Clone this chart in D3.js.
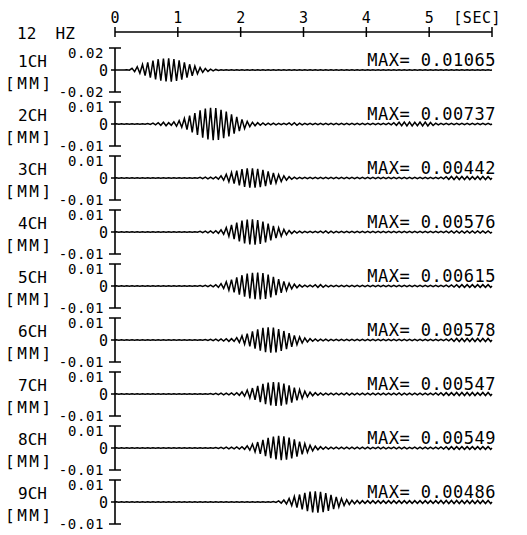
<!DOCTYPE html>
<html>
<head>
<meta charset="utf-8">
<script src="https://cdn.jsdelivr.net/npm/d3@7"></script>
<style>
    html, body { margin: 0; padding: 0; background: #fff; }
    svg text { font-family: "DejaVu Sans Mono", monospace; fill: #000; }
</style>
</head>
<body>
<svg id="chart" width="527" height="535"></svg>
<script>
/* ============================================
   12 HZ - desplazamientos por canal (9 CH)
   ============================================ */

// Eje de tiempo
const timeTicks = [0, 1, 2, 3, 4, 5, 6];
const timeLabels = ['0', '1', '2', '3', '4', '5', '[SEC]'];
const freqLabel = '12  HZ';
const carrierHz = 12;       // picos por segundo (uno por ciclo)

// Canales
const channelNames = ['1CH', '2CH', '3CH', '4CH', '5CH', '6CH', '7CH', '8CH', '9CH'];
const axisLimits = [0.02, 0.01, 0.01, 0.01, 0.01, 0.01, 0.01, 0.01, 0.01];
const axisLabels = [['0.02', '0', '-0.02'], ['0.01', '0', '-0.01'], ['0.01', '0', '-0.01'],
                    ['0.01', '0', '-0.01'], ['0.01', '0', '-0.01'], ['0.01', '0', '-0.01'],
                    ['0.01', '0', '-0.01'], ['0.01', '0', '-0.01'], ['0.01', '0', '-0.01']];
const maxLabels = ['0.01065', '0.00737', '0.00442', '0.00576', '0.00615',
                   '0.00578', '0.00547', '0.00549', '0.00486'];

// Amplitud de pico por ciclo (unidades de 1e-5 mm), 12 valores por segundo
const ch1 = [10, 10, 15, 150, 300, 500, 700, 850, 980, 1040, 1065, 1000,
             880, 700, 520, 350, 220, 130, 80, 50, 30, 25, 20, 20,
             15, 20, 25, 20, 15, 20, 25, 20, 15, 20, 15, 20,
             20, 25, 20, 15, 20, 20, 15, 20, 25, 20, 15, 20,
             20, 15, 20, 25, 20, 15, 20, 20, 25, 20, 15, 20,
             20, 25, 20, 15, 20, 20, 25, 30, 25, 20, 25, 20];
const ch2 = [10, 10, 10, 10, 10, 10, 20, 40, 60, 80, 60, 100,
             150, 250, 380, 500, 620, 700, 737, 720, 650, 560, 440, 320,
             210, 120, 80, 60, 50, 40, 40, 30, 30, 50, 60, 40,
             30, 30, 30, 30, 30, 30, 30, 30, 30, 30, 30, 30,
             30, 30, 30, 30, 40, 60, 80, 90, 90, 80, 90, 90,
             70, 40, 30, 30, 30, 30, 30, 30, 30, 30, 30, 30];
const ch3 = [10, 10, 10, 10, 10, 10, 10, 10, 10, 10, 10, 10,
             10, 10, 10, 10, 30, 40, 40, 50, 100, 170, 250, 330,
             400, 440, 442, 420, 370, 300, 230, 160, 100, 60, 40, 30,
             30, 30, 30, 30, 30, 30, 30, 30, 30, 30, 30, 30,
             30, 30, 30, 30, 30, 30, 30, 30, 30, 30, 30, 30,
             30, 30, 40, 60, 70, 70, 70, 70, 60, 70, 70, 60];
const ch4 = [10, 10, 10, 10, 10, 10, 10, 10, 10, 10, 10, 10,
             10, 10, 10, 10, 30, 40, 50, 60, 100, 200, 320, 430,
             520, 570, 576, 540, 470, 380, 280, 190, 120, 70, 50, 40,
             30, 30, 30, 40, 50, 40, 30, 30, 30, 30, 30, 30,
             30, 30, 30, 30, 30, 30, 30, 30, 30, 30, 30, 30,
             30, 30, 30, 40, 50, 50, 50, 50, 50, 50, 50, 50];
const ch5 = [10, 10, 10, 10, 10, 10, 10, 10, 10, 10, 10, 10,
             10, 10, 10, 10, 20, 30, 40, 60, 110, 190, 290, 390,
             490, 560, 600, 615, 590, 520, 420, 310, 210, 130, 80, 50,
             40, 40, 60, 60, 40, 30, 30, 30, 30, 30, 30, 30,
             30, 30, 30, 30, 30, 30, 30, 30, 30, 30, 30, 30,
             30, 30, 30, 40, 50, 60, 60, 60, 60, 60, 60, 60];
const ch6 = [10, 10, 10, 10, 10, 10, 10, 10, 10, 10, 10, 10,
             10, 10, 10, 10, 10, 20, 30, 40, 50, 60, 60, 110,
             190, 290, 390, 480, 550, 578, 560, 500, 410, 310, 210, 140,
             90, 60, 50, 40, 40, 30, 30, 30, 30, 30, 30, 30,
             30, 30, 30, 30, 30, 30, 30, 30, 30, 30, 30, 30,
             30, 30, 30, 40, 60, 70, 70, 70, 70, 70, 70, 70];
const ch7 = [10, 10, 10, 10, 10, 10, 10, 10, 10, 10, 10, 10,
             10, 10, 10, 10, 10, 10, 20, 30, 40, 40, 50, 60,
             100, 180, 270, 370, 460, 520, 547, 530, 470, 390, 290, 200,
             130, 80, 60, 50, 40, 40, 40, 40, 50, 40, 40, 40,
             40, 40, 40, 40, 40, 40, 50, 40, 40, 40, 40, 40,
             40, 50, 60, 60, 60, 70, 70, 70, 70, 60, 70, 70];
const ch8 = [10, 10, 10, 10, 10, 10, 10, 10, 10, 10, 10, 10,
             10, 10, 10, 10, 10, 10, 10, 20, 30, 40, 40, 50,
             60, 100, 180, 270, 370, 460, 520, 549, 530, 470, 390, 290,
             200, 130, 80, 60, 50, 40, 40, 40, 40, 40, 40, 40,
             40, 30, 40, 40, 30, 40, 40, 40, 30, 40, 40, 40,
             40, 40, 50, 60, 60, 60, 60, 60, 60, 60, 60, 60];
const ch9 = [10, 10, 10, 10, 10, 10, 10, 10, 10, 10, 10, 10,
             10, 10, 10, 10, 10, 10, 10, 10, 10, 10, 10, 10,
             10, 10, 10, 10, 10, 10, 20, 50, 90, 160, 250, 340,
             420, 470, 486, 460, 400, 320, 230, 160, 110, 80, 70, 60,
             60, 60, 60, 60, 60, 60, 60, 60, 60, 60, 60, 60,
             60, 60, 70, 70, 70, 70, 70, 70, 70, 70, 70, 70];
const channelAmps = [ch1, ch2, ch3, ch4, ch5, ch6, ch7, ch8, ch9];
const ampUnit = 1e-5;

// Layout
const svg = d3.select('#chart');
const axisX = 115;
const firstZero = 70;
const rowStep = 54;
const halfH = 22;

const x = d3.scaleLinear().domain([0, 6]).range([axisX, 492]);

// Eje superior de tiempo
const timeAxis = svg.append('g');
timeAxis.append('line')
    .attr('x1', x(0)).attr('x2', x(6))
    .attr('y1', 32).attr('y2', 32)
    .attr('stroke', '#000').attr('stroke-width', 1.5);
timeAxis.selectAll('.tick')
    .data(timeTicks)
    .enter().append('line')
    .attr('x1', d => x(d)).attr('x2', d => x(d))
    .attr('y1', 27).attr('y2', 37)
    .attr('stroke', '#000').attr('stroke-width', 1.5);
timeAxis.selectAll('.tlabel')
    .data(timeTicks)
    .enter().append('text')
    .attr('x', d => d === 6 ? 501 : x(d))
    .attr('y', 23)
    .attr('text-anchor', d => d === 6 ? 'end' : 'middle')
    .attr('font-size', '15px')
    .attr('letter-spacing', d => d === 6 ? '0.5px' : null)
    .text((d, i) => timeLabels[i]);

svg.append('text')
    .attr('x', 17).attr('y', 39)
    .attr('font-size', '16px')
    .style('white-space', 'pre')
    .text(freqLabel);

const line = d3.line().x(d => x(d.t));

channelNames.forEach((name, i) => {
    const y0 = firstZero + i * rowStep;
    const lim = axisLimits[i];
    const y = d3.scaleLinear().domain([-lim, lim]).range([y0 + halfH, y0 - halfH]);
    const g = svg.append('g');

    // Etiquetas del canal
    g.append('text').attr('x', 18).attr('y', y0 - 3).attr('font-size', '16px').text(name);
    g.append('text').attr('x', 5).attr('y', y0 + 19).attr('font-size', '16px')
        .attr('letter-spacing', '2.5px').text('[MM]');

    // Corchete vertical
    g.append('line')
        .attr('x1', axisX).attr('x2', axisX)
        .attr('y1', y(lim)).attr('y2', y(-lim))
        .attr('stroke', '#000').attr('stroke-width', 1.6);
    g.selectAll('.cap')
        .data([lim, -lim])
        .enter().append('line')
        .attr('x1', axisX - 6).attr('x2', axisX + 6)
        .attr('y1', d => y(d)).attr('y2', d => y(d))
        .attr('stroke', '#000').attr('stroke-width', 1.5);
    g.append('line')
        .attr('x1', axisX - 4).attr('x2', axisX)
        .attr('y1', y(0)).attr('y2', y(0))
        .attr('stroke', '#000').attr('stroke-width', 1.5);

    // Valores del eje
    const [lblTop, lblZero, lblBot] = axisLabels[i];
    g.append('text').attr('x', 104).attr('y', y(lim) + 9.5).attr('text-anchor', 'end')
        .attr('font-size', '14px').attr('letter-spacing', '0.6px').text(lblTop);
    g.append('text').attr('x', 108).attr('y', y(0) + 5.5).attr('text-anchor', 'end')
        .attr('font-size', '15px').text(lblZero);
    g.append('text').attr('x', 104).attr('y', y(-lim) + 5).attr('text-anchor', 'end')
        .attr('font-size', '14px').attr('letter-spacing', '0.6px').text(lblBot);

    // Señal: un pico y un valle por ciclo
    const pts = [{ t: 0, v: 0 }];
    channelAmps[i].forEach((a, k) => {
        pts.push({ t: (k + 0.25) / carrierHz, v: a * ampUnit });
        pts.push({ t: (k + 0.75) / carrierHz, v: -a * ampUnit });
    });
    pts.push({ t: 6, v: 0 });

    g.append('path')
        .datum(pts)
        .attr('fill', 'none')
        .attr('stroke', '#000')
        .attr('stroke-width', 1.5)
        .attr('d', line.y(d => y(d.v)));

    // MAX
    g.append('text')
        .attr('x', 496).attr('y', y0 - 4.5)
        .attr('text-anchor', 'end')
        .attr('font-size', '17px')
        .attr('letter-spacing', '0.5px')
        .text('MAX= ' + maxLabels[i]);
});
</script>
</body>
</html>
